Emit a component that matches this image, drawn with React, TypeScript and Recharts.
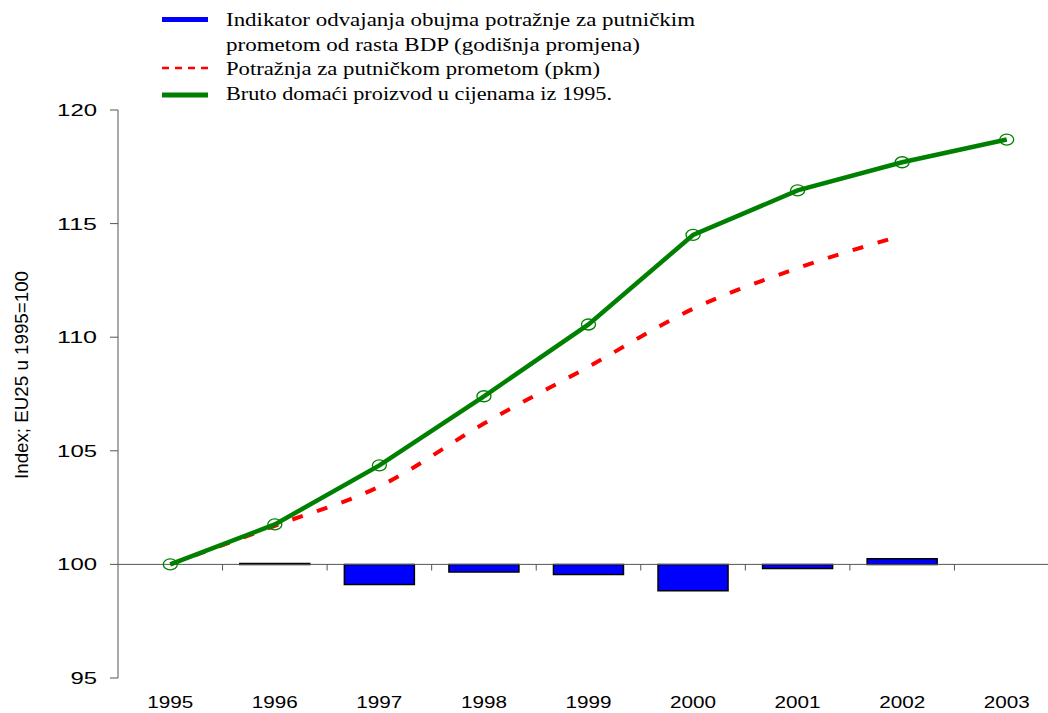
import {
  Bar,
  ComposedChart,
  Legend,
  Line,
  ReferenceLine,
  XAxis,
  YAxis,
} from "recharts";

const years = ["1995", "1996", "1997", "1998", "1999", "2000", "2001", "2002", "2003"];

// Bruto domaći proizvod (index, 1995 = 100)
const gdp = [100, 101.76, 104.36, 107.4, 110.56, 114.5, 116.46, 117.7, 118.7];

// Potražnja za putničkim prometom (pkm)
const demand = [100, 101.7, 103.43, 106.2, 108.7, 111.25, 113.04, 114.48, null];

// Indikator odvajanja (godišnja promjena, oko 100)
const decoupling = [null, 100.04, 99.11, 99.66, 99.56, 98.84, 99.82, 100.25, null];

const yTicks = [95, 100, 105, 110, 115, 120];
const baseline = 100;

const legendLines = [
  "Indikator odvajanja obujma potražnje za putničkim",
  "prometom od rasta BDP (godišnja promjena)",
  "Potražnja za putničkom prometom (pkm)",
  "Bruto domaći proizvod u cijenama iz 1995.",
];
const legendWidths = [469, 414, 374, 386];

const yLabel = "Index; EU25 u 1995=100";

const palette = {
  bar: "#0000ff",
  demand: "#ff0000",
  gdp: "#008000",
  axis: "#555555",
};

const sans = "'Liberation Sans', Arial, sans-serif";
const serif = "'Liberation Serif', 'Times New Roman', serif";

const data = years.map((year, i) => {
  const d = decoupling[i];
  return {
    year,
    gdp: gdp[i],
    demand: demand[i],
    decoupling: d == null ? null : [Math.min(baseline, d), Math.max(baseline, d)],
  };
});

const XTick = ({ x, y, payload }: any) => (
  <text
    x={x}
    y={y + 30}
    textAnchor="middle"
    fontFamily={sans}
    fontSize={17}
    textLength={46}
    lengthAdjust="spacingAndGlyphs"
    fill="#000"
  >
    {payload.value}
  </text>
);

const YTick = ({ x, y, payload }: any) => {
  const label = String(payload.value);
  return (
    <text
      x={x}
      y={y + 6}
      textAnchor="end"
      fontFamily={sans}
      fontSize={17}
      textLength={label.length * 13.3}
      lengthAdjust="spacingAndGlyphs"
      fill="#000"
    >
      {label}
    </text>
  );
};

const YLabel = ({ viewBox }: any) => {
  const cx = 28;
  const cy = viewBox.y + viewBox.height / 2 - 19;
  return (
    <text
      x={cx}
      y={cy}
      textAnchor="middle"
      transform={`rotate(-90, ${cx}, ${cy})`}
      fontFamily={sans}
      fontSize={19}
      textLength={208}
      lengthAdjust="spacingAndGlyphs"
      fill="#000"
    >
      {yLabel}
    </text>
  );
};

const GdpDot = ({ cx, cy }: any) =>
  cx == null || cy == null ? null : (
    <ellipse cx={cx} cy={cy} rx={7} ry={5.5} fill="none" stroke={palette.gdp} strokeWidth={1.3} />
  );

const LegendBox = () => {
  const iconX1 = 162;
  const iconX2 = 208;
  const textX = 226;
  const rows = [19.5, 44, 68, 93];
  return (
    <svg width={1048} height={110} style={{ display: "block" }}>
      <line x1={iconX1} x2={iconX2} y1={rows[0]} y2={rows[0]} stroke={palette.bar} strokeWidth={5} />
      <line
        x1={iconX1}
        x2={iconX2}
        y1={rows[2]}
        y2={rows[2]}
        stroke={palette.demand}
        strokeWidth={2.5}
        strokeDasharray="7 6"
      />
      <line x1={iconX1} x2={iconX2} y1={rows[3] + 2} y2={rows[3] + 2} stroke={palette.gdp} strokeWidth={5} />
      {legendLines.map((t, i) => (
        <text
          key={t}
          x={textX}
          y={rows[i] + 6.5}
          fontFamily={serif}
          fontSize={19}
          textLength={legendWidths[i]}
          lengthAdjust="spacingAndGlyphs"
          fill="#000"
        >
          {t}
        </text>
      ))}
    </svg>
  );
};

export default function App() {
  return (
    <div
      style={{
        position: "fixed",
        left: 0,
        top: 0,
        width: 1048,
        height: 713,
        overflow: "hidden",
        background: "#fff",
      }}
    >
      <ComposedChart
        width={1070}
        height={713}
        data={data}
        margin={{ top: 110, right: 11, left: 0, bottom: 0 }}
        barCategoryGap="16.5%"
      >
        <XAxis
          dataKey="year"
          axisLine={false}
          tickLine={false}
          tickSize={0}
          tickMargin={0}
          height={35}
          tick={<XTick />}
          interval={0}
        />
        <YAxis
          type="number"
          domain={[95, 120]}
          ticks={yTicks}
          width={118}
          stroke={palette.axis}
          tickSize={8}
          tickMargin={13}
          tick={<YTick />}
          allowDataOverflow
          label={<YLabel />}
        />
        <Legend
          layout="horizontal"
          verticalAlign="middle"
          align="center"
          wrapperStyle={{ top: 0, left: 0, width: 1048, height: 110 }}
          content={<LegendBox />}
        />
        <Bar
          dataKey="decoupling"
          name={legendLines[0]}
          fill={palette.bar}
          stroke="#000"
          strokeWidth={1.5}
          isAnimationActive={false}
        />
        <ReferenceLine y={baseline} stroke={palette.axis} strokeWidth={1} />
        {years.slice(0, -1).map((yr) => (
          <ReferenceLine
            key={yr}
            segment={[
              { x: yr, y: baseline },
              { x: yr, y: baseline - 0.27 },
            ]}
            position="end"
            stroke={palette.axis}
            strokeWidth={1}
            ifOverflow="visible"
          />
        ))}
        <Line
          type="monotone"
          dataKey="demand"
          name={legendLines[2]}
          stroke={palette.demand}
          strokeWidth={4}
          strokeDasharray="11 15"
          dot={false}
          activeDot={false}
          connectNulls={false}
          isAnimationActive={false}
        />
        <Line
          type="linear"
          dataKey="gdp"
          name={legendLines[3]}
          stroke={palette.gdp}
          strokeWidth={4.5}
          dot={<GdpDot />}
          activeDot={false}
          isAnimationActive={false}
        />
      </ComposedChart>
    </div>
  );
}
